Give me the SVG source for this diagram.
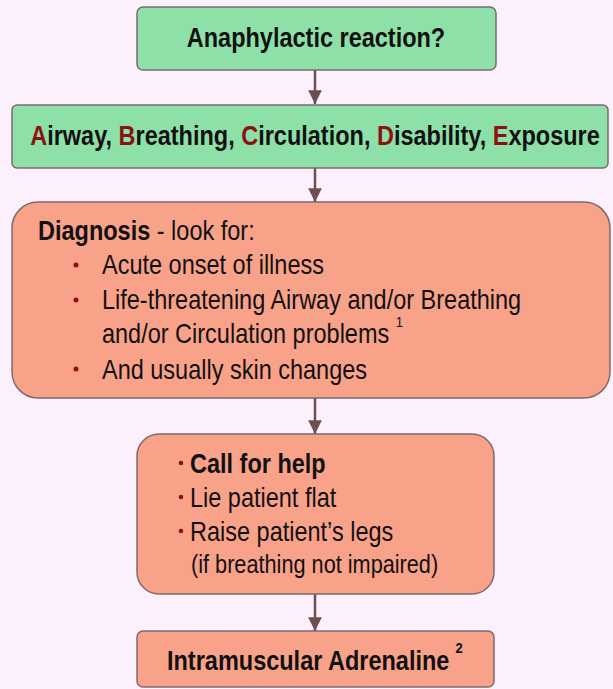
<svg xmlns="http://www.w3.org/2000/svg" width="613" height="689" viewBox="0 0 613 689">
<defs>
<marker id="ah" viewBox="0 0 10 10" refX="10" refY="5" markerWidth="5.5" markerHeight="5.5" markerUnits="strokeWidth" orient="auto">
<path d="M0,0 L10,5 L0,10 z" fill="#6e4f50"/>
</marker>
</defs>
<style>
.green{fill:#8ee0a9;stroke:#7d6b6b;stroke-width:1.5}
.red{fill:#f9a28a;stroke:#7d6b6b;stroke-width:1.5}
text{font-family:"Liberation Sans",Arial,sans-serif;font-size:23.5px;fill:#111}
.b{font-weight:bold}
.k{fill:#8b1212}
.sup{font-size:13px}
.dot{fill:#8b1212}
.conn{stroke:#6e4f50;stroke-width:2.5;fill:none;marker-end:url(#ah)}
</style>
<rect width="613" height="689" fill="#fdf0fd"/>
<g id="connectors">
<line class="conn" x1="315" y1="70" x2="315" y2="104"/>
<line class="conn" x1="315" y1="168" x2="315" y2="202"/>
<line class="conn" x1="315" y1="398" x2="315" y2="434"/>
<line class="conn" x1="315" y1="594" x2="315" y2="631"/>
</g>
<g id="n1">
<rect class="green" x="137" y="7" width="359" height="63" rx="6"/>
<text class="b" x="316" y="0" transform="matrix(1 0 0 1.15 0 47)" text-anchor="middle">Anaphylactic reaction?</text>
</g>
<g id="n2">
<rect class="green" x="12" y="105" width="596" height="63" rx="5"/>
<text class="b" x="315" y="0" transform="matrix(1 0 0 1.15 0 145)" text-anchor="middle"><tspan class="k">A</tspan>irway, <tspan class="k">B</tspan>reathing, <tspan class="k">C</tspan>irculation, <tspan class="k">D</tspan>isability, <tspan class="k">E</tspan>xposure</text>
</g>
<g id="n3">
<rect class="red" x="12" y="202" width="598" height="196" rx="26"/>
<text x="38" y="0" transform="matrix(1 0 0 1.15 0 240)"><tspan class="b">Diagnosis</tspan> - look for:</text>
<circle class="dot" cx="76" cy="265" r="2.5"/>
<text x="102" y="0" transform="matrix(1 0 0 1.15 0 274)">Acute onset of illness</text>
<circle class="dot" cx="76" cy="300" r="2.5"/>
<text x="102" y="0" transform="matrix(1 0 0 1.15 0 309)">Life-threatening Airway and/or Breathing</text>
<text x="102" y="0" transform="matrix(1 0 0 1.15 0 343)">and/or Circulation problems <tspan class="sup" dy="-14">1</tspan></text>
<circle class="dot" cx="76" cy="369" r="2.5"/>
<text x="102" y="0" transform="matrix(1 0 0 1.15 0 379)">And usually skin changes</text>
</g>
<g id="n4">
<rect class="red" x="137" y="434" width="357" height="160" rx="22"/>
<circle class="dot" cx="181" cy="463" r="2.3"/>
<text class="b" x="190" y="0" transform="matrix(1 0 0 1.15 0 473)">Call for help</text>
<circle class="dot" cx="181" cy="497" r="2.3"/>
<text x="190" y="0" transform="matrix(1 0 0 1.15 0 507)">Lie patient flat</text>
<circle class="dot" cx="181" cy="531" r="2.3"/>
<text x="190" y="0" transform="matrix(1 0 0 1.15 0 541)">Raise patient’s legs</text>
<text x="191" y="0" transform="matrix(1 0 0 1.15 0 573)" style="font-size:21.7px">(if breathing not impaired)</text>
</g>
<g id="n5">
<rect class="red" x="137" y="631" width="357" height="56" rx="6"/>
<text class="b" x="167" y="0" transform="matrix(1 0 0 1.15 0 670)">Intramuscular Adrenaline<tspan class="sup" dx="6" dy="-15">2</tspan></text>
</g>
</svg>
